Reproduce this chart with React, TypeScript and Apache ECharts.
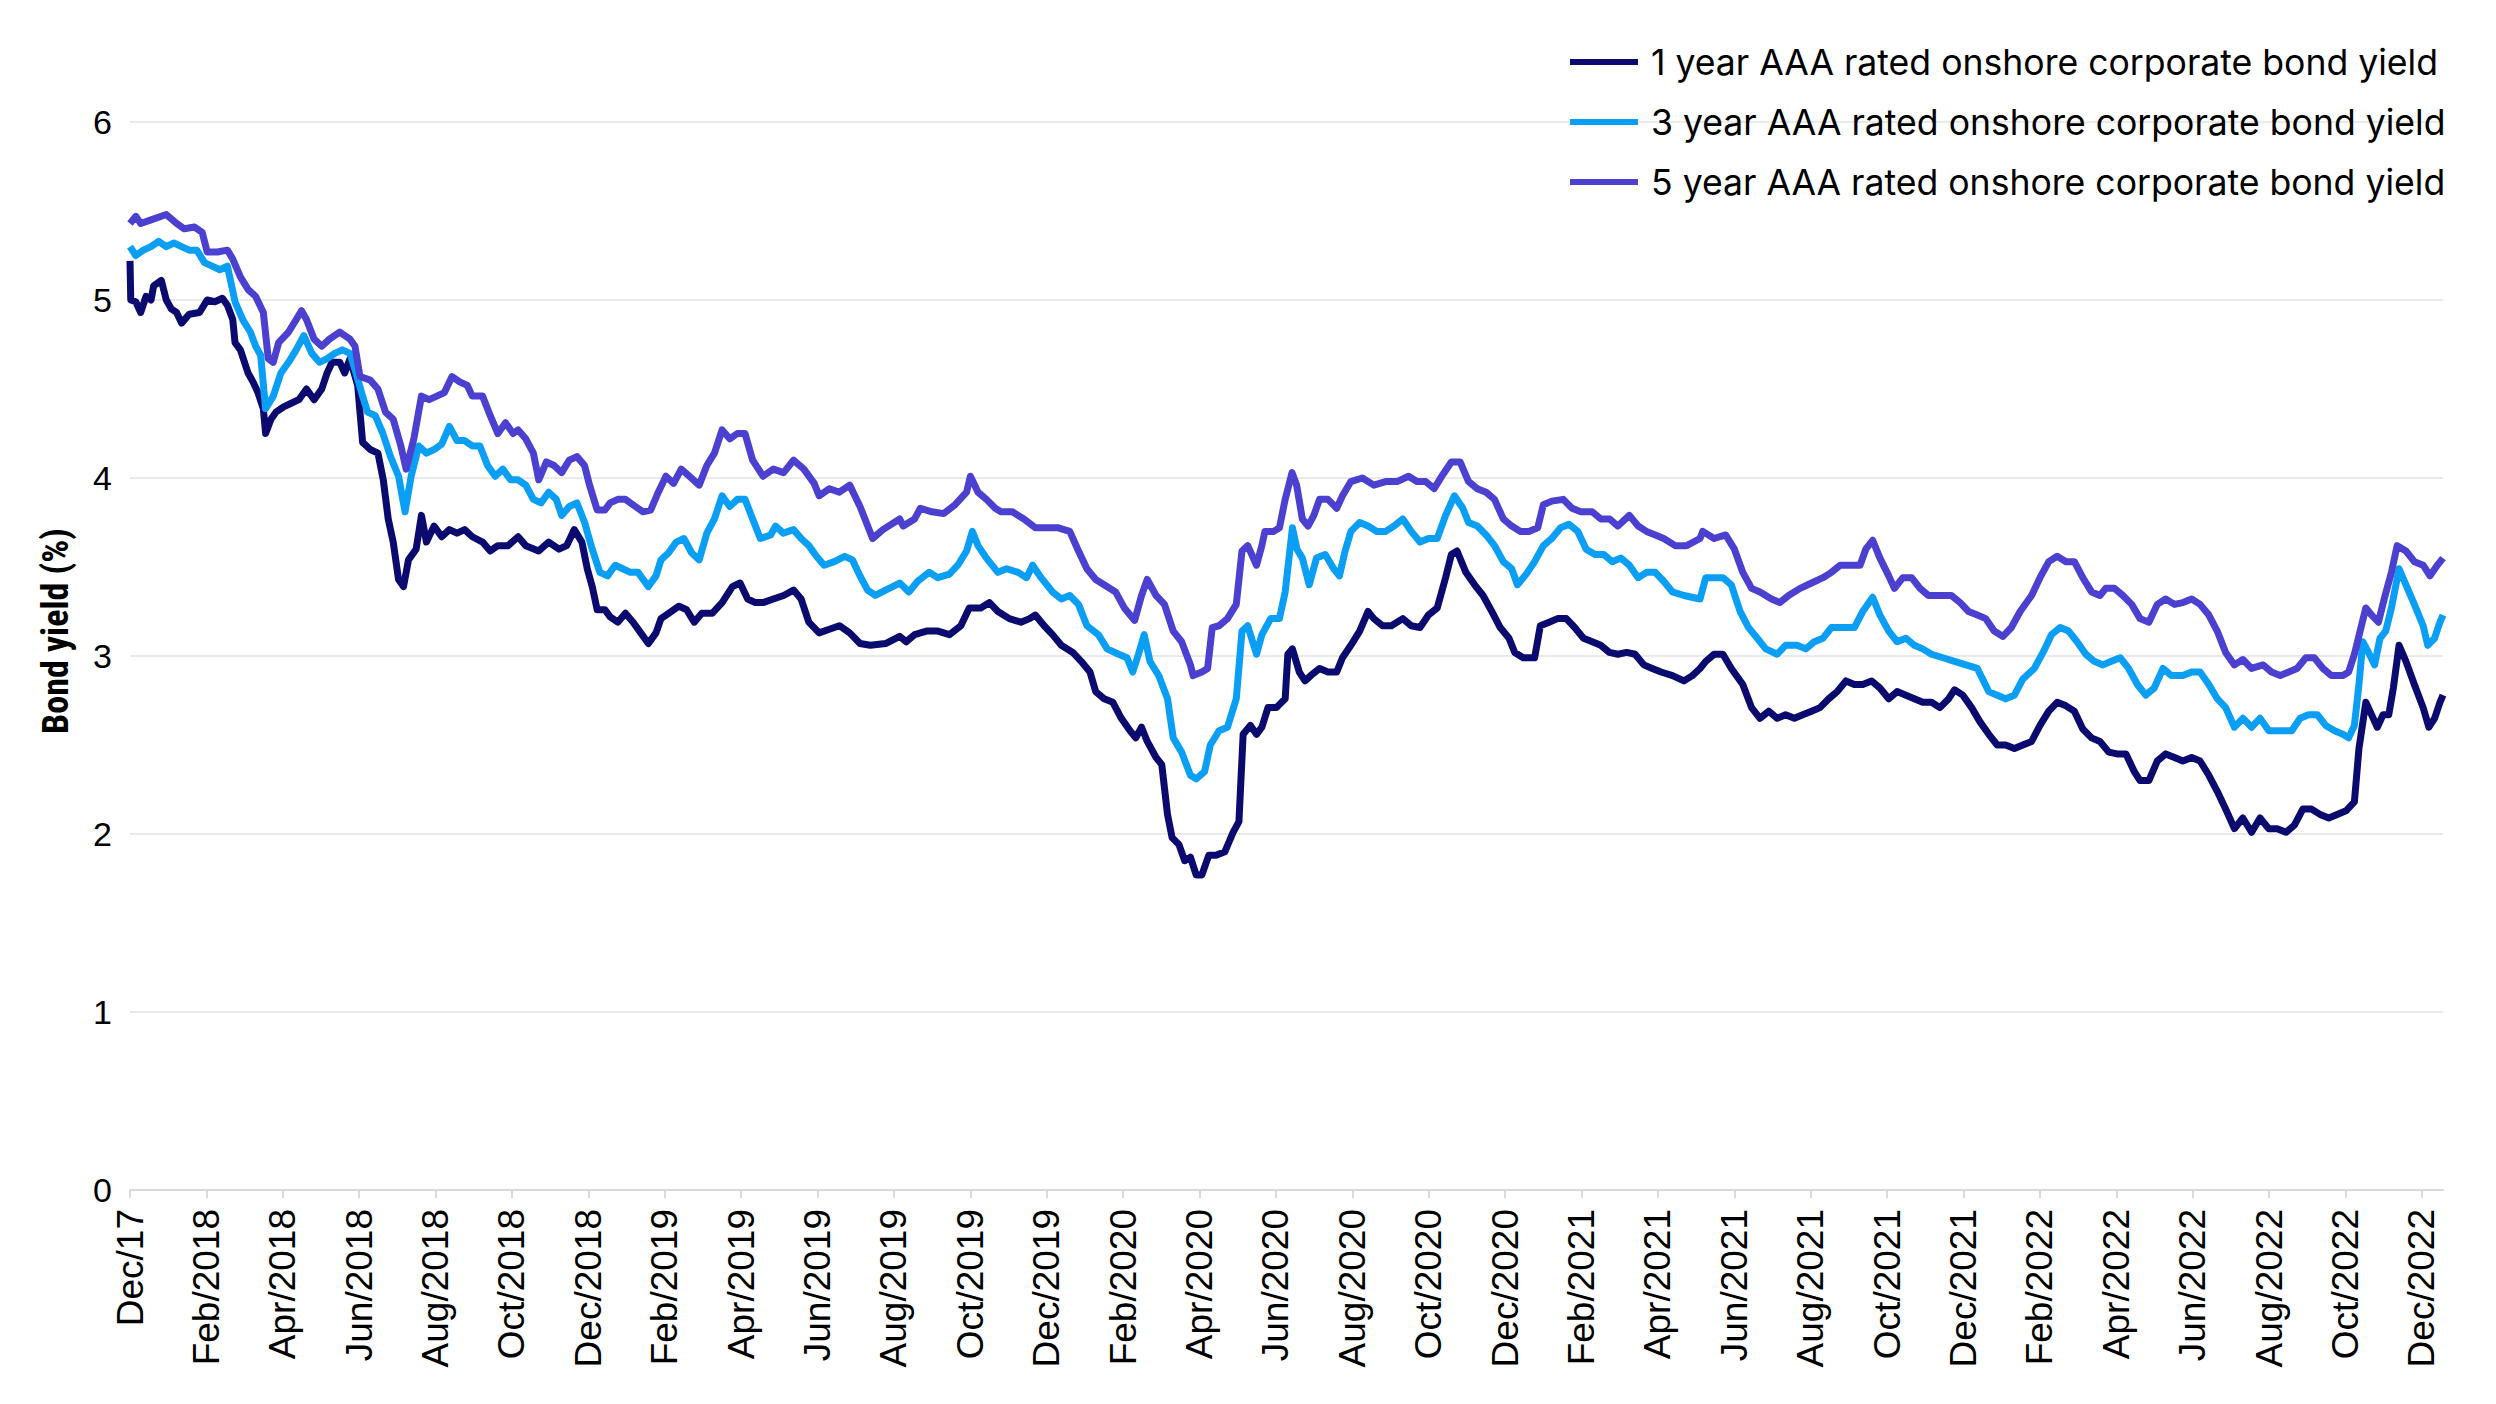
import React, { useEffect, useRef } from "react";
import * as echarts from "echarts";

// x = months since 1 Dec 2017 (0 = Dec 2017, 2 = Feb 2018, ... 60 = Dec 2022)
const seriesNames = [
  "1 year AAA rated onshore corporate bond yield",
  "3 year AAA rated onshore corporate bond yield",
  "5 year AAA rated onshore corporate bond yield",
];
const seriesColors = ["#0b0b6f", "#0a9ff5", "#4b40d0"];

const xTickLabels = [
  "Dec/17", "Feb/2018", "Apr/2018", "Jun/2018", "Aug/2018", "Oct/2018",
  "Dec/2018", "Feb/2019", "Apr/2019", "Jun/2019", "Aug/2019", "Oct/2019",
  "Dec/2019", "Feb/2020", "Apr/2020", "Jun/2020", "Aug/2020", "Oct/2020",
  "Dec/2020", "Feb/2021", "Apr/2021", "Jun/2021", "Aug/2021", "Oct/2021",
  "Dec/2021", "Feb/2022", "Apr/2022", "Jun/2022", "Aug/2022", "Oct/2022",
  "Dec/2022",
];
const xMax = 60.55;

const oneYear: [number, number][] = [
  [0, 5.22], [0.02, 5.0], [0.15, 4.99], [0.28, 4.93], [0.42, 5.02], [0.55, 5.0], [0.62, 5.08], [0.82, 5.11],
  [0.95, 5.0], [1.08, 4.95], [1.22, 4.93], [1.35, 4.87], [1.55, 4.92], [1.82, 4.93], [2.02, 5.0], [2.22, 4.99],
  [2.42, 5.01], [2.55, 4.97], [2.69, 4.89], [2.75, 4.76], [2.89, 4.72], [3.09, 4.59], [3.22, 4.54], [3.35, 4.48],
  [3.49, 4.39], [3.55, 4.25], [3.69, 4.33], [3.82, 4.37], [4.02, 4.4], [4.22, 4.42], [4.42, 4.44], [4.62, 4.5],
  [4.82, 4.44], [5.02, 4.5], [5.16, 4.59], [5.29, 4.65], [5.49, 4.65], [5.62, 4.59], [5.76, 4.67], [5.96, 4.52],
  [6.09, 4.2], [6.29, 4.16], [6.49, 4.14], [6.63, 3.99], [6.76, 3.77], [6.89, 3.64], [7.03, 3.43], [7.16, 3.39],
  [7.29, 3.54], [7.49, 3.6], [7.63, 3.79], [7.76, 3.64], [7.96, 3.73], [8.16, 3.67], [8.36, 3.71], [8.56, 3.69],
  [8.76, 3.71], [8.96, 3.67], [9.23, 3.64], [9.43, 3.59], [9.63, 3.62], [9.9, 3.62], [10.16, 3.67], [10.36, 3.62],
  [10.7, 3.59], [10.96, 3.64], [11.23, 3.6], [11.43, 3.62], [11.63, 3.71], [11.83, 3.64], [11.97, 3.49], [12.1, 3.39],
  [12.23, 3.26], [12.43, 3.26], [12.57, 3.22], [12.77, 3.19], [12.97, 3.24], [13.17, 3.19], [13.37, 3.13], [13.57, 3.07],
  [13.77, 3.13], [13.9, 3.21], [14.1, 3.24], [14.37, 3.28], [14.57, 3.26], [14.77, 3.19], [14.97, 3.24], [15.24, 3.24],
  [15.5, 3.3], [15.77, 3.39], [15.97, 3.41], [16.17, 3.32], [16.37, 3.3], [16.57, 3.3], [16.84, 3.32], [17.11, 3.34],
  [17.37, 3.37], [17.57, 3.32], [17.77, 3.19], [18.04, 3.13], [18.31, 3.15], [18.57, 3.17], [18.84, 3.13], [19.11, 3.07],
  [19.38, 3.06], [19.78, 3.07], [20.15, 3.11], [20.32, 3.08], [20.54, 3.12], [20.85, 3.14], [21.15, 3.14], [21.45, 3.12],
  [21.75, 3.17], [21.97, 3.27], [22.27, 3.27], [22.5, 3.3], [22.72, 3.25], [23.02, 3.21], [23.32, 3.19], [23.55, 3.21],
  [23.7, 3.23], [23.93, 3.17], [24.15, 3.12], [24.38, 3.06], [24.68, 3.02], [24.9, 2.97], [25.13, 2.91], [25.28, 2.8],
  [25.5, 2.76], [25.73, 2.74], [25.95, 2.65], [26.18, 2.58], [26.33, 2.54], [26.48, 2.6], [26.63, 2.52], [26.86, 2.43],
  [27.01, 2.39], [27.16, 2.11], [27.28, 1.98], [27.46, 1.94], [27.61, 1.85], [27.76, 1.87], [27.91, 1.77], [28.06, 1.77],
  [28.24, 1.88], [28.43, 1.88], [28.66, 1.9], [28.88, 2.01], [29.03, 2.07], [29.14, 2.56], [29.33, 2.61], [29.49, 2.56],
  [29.63, 2.6], [29.79, 2.71], [30.01, 2.71], [30.24, 2.76], [30.31, 3.01], [30.43, 3.04], [30.61, 2.91], [30.76, 2.86],
  [30.91, 2.89], [31.14, 2.93], [31.36, 2.91], [31.59, 2.91], [31.74, 2.99], [31.96, 3.06], [32.19, 3.14], [32.41, 3.25],
  [32.56, 3.21], [32.79, 3.17], [33.02, 3.17], [33.32, 3.21], [33.54, 3.17], [33.77, 3.16], [33.99, 3.23], [34.22, 3.27],
  [34.44, 3.44], [34.59, 3.57], [34.74, 3.59], [34.97, 3.47], [35.2, 3.4], [35.42, 3.34], [35.65, 3.25], [35.87, 3.16],
  [36.1, 3.1], [36.25, 3.02], [36.47, 2.99], [36.77, 2.99], [36.92, 3.17], [37.15, 3.19], [37.37, 3.21], [37.6, 3.21],
  [37.82, 3.16], [38.05, 3.1], [38.28, 3.08], [38.5, 3.06], [38.73, 3.02], [38.95, 3.01], [39.18, 3.02], [39.4, 3.01],
  [39.63, 2.95], [39.85, 2.93], [40.08, 2.91], [40.38, 2.89], [40.68, 2.86], [40.9, 2.89], [41.1, 2.93], [41.25, 2.97],
  [41.47, 3.01], [41.7, 3.01], [41.92, 2.93], [42.22, 2.84], [42.45, 2.71], [42.67, 2.65], [42.9, 2.69], [43.12, 2.65],
  [43.34, 2.67], [43.57, 2.65], [43.79, 2.67], [44.02, 2.69], [44.24, 2.71], [44.47, 2.76], [44.69, 2.8], [44.92, 2.86],
  [45.14, 2.84], [45.36, 2.84], [45.59, 2.86], [45.81, 2.82], [46.04, 2.76], [46.26, 2.8], [46.49, 2.78], [46.71, 2.76],
  [46.93, 2.74], [47.16, 2.74], [47.38, 2.71], [47.61, 2.76], [47.76, 2.81], [47.98, 2.78], [48.21, 2.71], [48.43, 2.63],
  [48.66, 2.56], [48.88, 2.5], [49.1, 2.5], [49.33, 2.48], [49.55, 2.5], [49.78, 2.52], [50.0, 2.61], [50.23, 2.69],
  [50.45, 2.74], [50.68, 2.72], [50.9, 2.69], [51.12, 2.59], [51.35, 2.54], [51.57, 2.52], [51.8, 2.46], [52.02, 2.45],
  [52.25, 2.45], [52.47, 2.35], [52.62, 2.3], [52.85, 2.3], [53.07, 2.41], [53.29, 2.45], [53.52, 2.43], [53.74, 2.41],
  [53.97, 2.43], [54.19, 2.41], [54.42, 2.33], [54.64, 2.24], [54.86, 2.14], [55.09, 2.03], [55.31, 2.09], [55.54, 2.01],
  [55.76, 2.09], [55.99, 2.03], [56.21, 2.03], [56.44, 2.01], [56.66, 2.05], [56.88, 2.14], [57.11, 2.14], [57.33, 2.11],
  [57.56, 2.09], [57.78, 2.11], [58.01, 2.13], [58.23, 2.18], [58.35, 2.48], [58.53, 2.74], [58.68, 2.67], [58.83, 2.6],
  [58.98, 2.67], [59.13, 2.67], [59.25, 2.82], [59.4, 3.06], [59.58, 2.97], [59.8, 2.84], [60.03, 2.71], [60.18, 2.6],
  [60.33, 2.65], [60.47, 2.74], [60.55, 2.78],
];

const threeYear: [number, number][] = [
  [0, 5.3], [0.15, 5.25], [0.35, 5.28], [0.55, 5.3], [0.75, 5.33], [0.95, 5.3], [1.15, 5.32], [1.35, 5.3],
  [1.55, 5.28], [1.75, 5.28], [1.95, 5.21], [2.15, 5.19], [2.35, 5.17], [2.55, 5.19], [2.62, 5.12], [2.75, 4.99],
  [2.95, 4.89], [3.15, 4.82], [3.29, 4.74], [3.42, 4.69], [3.55, 4.39], [3.75, 4.46], [3.95, 4.59], [4.15, 4.65],
  [4.35, 4.72], [4.55, 4.8], [4.76, 4.7], [4.96, 4.65], [5.16, 4.67], [5.36, 4.7], [5.56, 4.72], [5.76, 4.7],
  [5.89, 4.61], [6.09, 4.46], [6.22, 4.37], [6.42, 4.35], [6.62, 4.25], [6.82, 4.12], [7.03, 4.01], [7.2, 3.81],
  [7.36, 4.01], [7.56, 4.18], [7.76, 4.14], [7.96, 4.16], [8.16, 4.19], [8.36, 4.29], [8.56, 4.21], [8.76, 4.21],
  [8.96, 4.18], [9.16, 4.18], [9.36, 4.07], [9.56, 4.01], [9.76, 4.05], [9.96, 3.99], [10.16, 3.99], [10.36, 3.96],
  [10.56, 3.88], [10.76, 3.86], [10.96, 3.92], [11.16, 3.88], [11.3, 3.79], [11.5, 3.84], [11.7, 3.86], [11.9, 3.75],
  [12.1, 3.6], [12.3, 3.47], [12.5, 3.45], [12.7, 3.51], [12.9, 3.49], [13.1, 3.47], [13.3, 3.47], [13.57, 3.39],
  [13.77, 3.45], [13.9, 3.54], [14.1, 3.58], [14.3, 3.64], [14.5, 3.66], [14.7, 3.58], [14.9, 3.54], [15.1, 3.69],
  [15.3, 3.77], [15.5, 3.9], [15.7, 3.84], [15.9, 3.88], [16.1, 3.88], [16.3, 3.77], [16.5, 3.66], [16.77, 3.68],
  [16.9, 3.73], [17.1, 3.69], [17.37, 3.71], [17.57, 3.66], [17.77, 3.62], [17.97, 3.56], [18.17, 3.51], [18.44, 3.53],
  [18.71, 3.56], [18.91, 3.54], [19.11, 3.45], [19.31, 3.37], [19.51, 3.34], [19.78, 3.37], [20.15, 3.41], [20.39, 3.36],
  [20.62, 3.42], [20.92, 3.47], [21.15, 3.44], [21.45, 3.46], [21.67, 3.51], [21.9, 3.59], [22.05, 3.7], [22.2, 3.62],
  [22.42, 3.55], [22.72, 3.47], [22.95, 3.49], [23.25, 3.47], [23.47, 3.44], [23.63, 3.51], [23.85, 3.44], [24.15, 3.36],
  [24.38, 3.32], [24.6, 3.34], [24.83, 3.29], [25.05, 3.17], [25.35, 3.12], [25.58, 3.04], [25.88, 3.01], [26.1, 2.99],
  [26.25, 2.91], [26.4, 3.01], [26.55, 3.12], [26.7, 2.97], [26.93, 2.89], [27.16, 2.76], [27.31, 2.54], [27.53, 2.46],
  [27.76, 2.33], [27.91, 2.31], [28.13, 2.35], [28.28, 2.5], [28.51, 2.58], [28.73, 2.6], [28.96, 2.76], [29.11, 3.14],
  [29.26, 3.17], [29.49, 3.01], [29.63, 3.12], [29.86, 3.21], [30.09, 3.21], [30.24, 3.36], [30.43, 3.72], [30.55, 3.6],
  [30.69, 3.55], [30.87, 3.4], [31.06, 3.55], [31.29, 3.57], [31.51, 3.49], [31.66, 3.45], [31.81, 3.59], [31.96, 3.7],
  [32.19, 3.75], [32.41, 3.73], [32.64, 3.7], [32.87, 3.7], [33.09, 3.73], [33.32, 3.77], [33.54, 3.7], [33.77, 3.64],
  [33.99, 3.66], [34.22, 3.66], [34.44, 3.79], [34.67, 3.9], [34.89, 3.83], [35.04, 3.75], [35.27, 3.73], [35.5, 3.68],
  [35.72, 3.62], [35.95, 3.53], [36.17, 3.49], [36.32, 3.4], [36.55, 3.46], [36.77, 3.53], [37.0, 3.62], [37.22, 3.66],
  [37.45, 3.72], [37.67, 3.74], [37.9, 3.7], [38.12, 3.6], [38.35, 3.57], [38.58, 3.57], [38.8, 3.53], [39.03, 3.55],
  [39.25, 3.51], [39.48, 3.44], [39.7, 3.47], [39.93, 3.47], [40.15, 3.42], [40.38, 3.36], [40.68, 3.34], [41.1, 3.32],
  [41.25, 3.44], [41.47, 3.44], [41.7, 3.44], [41.92, 3.4], [42.15, 3.25], [42.37, 3.16], [42.6, 3.1], [42.82, 3.04],
  [43.12, 3.01], [43.34, 3.06], [43.64, 3.06], [43.87, 3.04], [44.09, 3.08], [44.32, 3.1], [44.54, 3.16], [44.84, 3.16],
  [45.14, 3.16], [45.36, 3.25], [45.62, 3.33], [45.81, 3.23], [46.04, 3.14], [46.26, 3.08], [46.49, 3.1], [46.71, 3.06],
  [46.93, 3.04], [47.16, 3.01], [47.46, 2.99], [47.76, 2.97], [48.06, 2.95], [48.36, 2.93], [48.66, 2.8], [48.88, 2.78],
  [49.1, 2.76], [49.33, 2.78], [49.55, 2.87], [49.85, 2.93], [50.08, 3.02], [50.3, 3.12], [50.53, 3.16], [50.75, 3.14],
  [50.97, 3.08], [51.2, 3.01], [51.42, 2.97], [51.65, 2.95], [51.87, 2.97], [52.1, 2.99], [52.32, 2.93], [52.55, 2.84],
  [52.77, 2.78], [52.99, 2.82], [53.22, 2.93], [53.44, 2.89], [53.74, 2.89], [53.97, 2.91], [54.19, 2.91], [54.42, 2.84],
  [54.64, 2.76], [54.86, 2.71], [55.09, 2.6], [55.31, 2.65], [55.54, 2.6], [55.76, 2.65], [55.99, 2.58], [56.29, 2.58],
  [56.59, 2.58], [56.81, 2.65], [57.03, 2.67], [57.26, 2.67], [57.48, 2.61], [57.71, 2.58], [57.93, 2.56], [58.08, 2.54],
  [58.23, 2.61], [58.35, 2.84], [58.45, 3.08], [58.6, 3.02], [58.76, 2.95], [58.9, 3.1], [59.05, 3.14], [59.2, 3.27],
  [59.4, 3.49], [59.58, 3.4], [59.8, 3.29], [60.03, 3.17], [60.15, 3.06], [60.33, 3.1], [60.47, 3.19], [60.55, 3.23],
];

const fiveYear: [number, number][] = [
  [0, 5.43], [0.15, 5.47], [0.28, 5.43], [0.55, 5.45], [0.95, 5.48], [1.22, 5.43], [1.42, 5.4], [1.69, 5.41],
  [1.89, 5.38], [2.02, 5.27], [2.29, 5.27], [2.55, 5.28], [2.69, 5.23], [2.89, 5.13], [3.09, 5.06], [3.29, 5.02],
  [3.49, 4.93], [3.62, 4.67], [3.75, 4.65], [3.89, 4.76], [4.15, 4.82], [4.35, 4.89], [4.49, 4.94], [4.62, 4.89],
  [4.82, 4.78], [5.02, 4.74], [5.22, 4.78], [5.49, 4.82], [5.76, 4.78], [5.89, 4.74], [6.02, 4.57], [6.29, 4.55],
  [6.49, 4.5], [6.69, 4.37], [6.89, 4.33], [7.09, 4.18], [7.23, 4.05], [7.43, 4.22], [7.63, 4.46], [7.83, 4.44],
  [8.03, 4.46], [8.23, 4.48], [8.43, 4.57], [8.63, 4.54], [8.83, 4.52], [8.96, 4.46], [9.23, 4.46], [9.43, 4.35],
  [9.63, 4.25], [9.83, 4.31], [10.03, 4.25], [10.16, 4.27], [10.36, 4.22], [10.56, 4.14], [10.7, 3.99], [10.9, 4.09],
  [11.1, 4.07], [11.3, 4.03], [11.5, 4.1], [11.7, 4.12], [11.9, 4.07], [12.03, 3.96], [12.23, 3.82], [12.43, 3.82],
  [12.57, 3.86], [12.77, 3.88], [12.97, 3.88], [13.23, 3.84], [13.43, 3.81], [13.63, 3.82], [13.83, 3.92], [14.03, 4.01],
  [14.23, 3.97], [14.43, 4.05], [14.64, 4.01], [14.9, 3.96], [15.1, 4.07], [15.3, 4.14], [15.5, 4.27], [15.7, 4.22],
  [15.9, 4.25], [16.1, 4.25], [16.3, 4.1], [16.57, 4.01], [16.84, 4.05], [17.11, 4.03], [17.37, 4.1], [17.64, 4.05],
  [17.91, 3.97], [18.04, 3.9], [18.31, 3.94], [18.57, 3.92], [18.84, 3.96], [19.11, 3.84], [19.24, 3.77], [19.44, 3.66],
  [19.71, 3.71], [20.15, 3.77], [20.24, 3.73], [20.54, 3.77], [20.69, 3.83], [20.99, 3.81], [21.3, 3.8], [21.6, 3.85],
  [21.9, 3.92], [22.0, 4.01], [22.2, 3.92], [22.42, 3.88], [22.65, 3.83], [22.8, 3.81], [23.1, 3.81], [23.4, 3.77],
  [23.7, 3.72], [24.0, 3.72], [24.3, 3.72], [24.6, 3.7], [24.83, 3.59], [25.05, 3.49], [25.28, 3.43], [25.5, 3.4],
  [25.8, 3.36], [26.03, 3.27], [26.3, 3.2], [26.48, 3.34], [26.63, 3.43], [26.86, 3.34], [27.08, 3.29], [27.31, 3.14],
  [27.53, 3.08], [27.76, 2.95], [27.83, 2.89], [28.06, 2.91], [28.21, 2.93], [28.33, 3.16], [28.51, 3.17], [28.73, 3.21],
  [28.96, 3.29], [29.11, 3.59], [29.26, 3.62], [29.49, 3.51], [29.63, 3.62], [29.71, 3.7], [29.94, 3.7], [30.09, 3.72],
  [30.24, 3.88], [30.42, 4.03], [30.54, 3.96], [30.69, 3.77], [30.84, 3.73], [30.99, 3.79], [31.14, 3.88], [31.36, 3.88],
  [31.59, 3.83], [31.74, 3.9], [31.96, 3.98], [32.26, 4.0], [32.56, 3.96], [32.87, 3.98], [33.17, 3.98], [33.47, 4.01],
  [33.69, 3.98], [33.92, 3.98], [34.14, 3.94], [34.37, 4.02], [34.59, 4.09], [34.82, 4.09], [35.04, 3.98], [35.27, 3.94],
  [35.5, 3.92], [35.72, 3.88], [35.95, 3.77], [36.17, 3.73], [36.4, 3.7], [36.62, 3.7], [36.85, 3.72], [37.0, 3.85],
  [37.22, 3.87], [37.52, 3.88], [37.75, 3.83], [37.98, 3.81], [38.28, 3.81], [38.5, 3.77], [38.73, 3.77], [38.95, 3.73],
  [39.25, 3.79], [39.48, 3.73], [39.7, 3.7], [39.93, 3.68], [40.15, 3.66], [40.45, 3.62], [40.75, 3.62], [41.1, 3.66],
  [41.17, 3.7], [41.47, 3.66], [41.77, 3.68], [42.0, 3.6], [42.22, 3.47], [42.45, 3.38], [42.67, 3.36], [42.97, 3.32],
  [43.19, 3.3], [43.42, 3.34], [43.72, 3.38], [44.02, 3.41], [44.32, 3.44], [44.54, 3.47], [44.77, 3.51], [45.07, 3.51],
  [45.29, 3.51], [45.44, 3.6], [45.62, 3.65], [45.81, 3.55], [46.04, 3.45], [46.19, 3.38], [46.41, 3.44], [46.64, 3.44],
  [46.86, 3.38], [47.08, 3.34], [47.38, 3.34], [47.68, 3.34], [47.91, 3.3], [48.13, 3.25], [48.36, 3.23], [48.58, 3.21],
  [48.8, 3.14], [49.03, 3.11], [49.25, 3.16], [49.48, 3.25], [49.78, 3.34], [50.0, 3.44], [50.23, 3.53], [50.45, 3.56],
  [50.68, 3.53], [50.9, 3.53], [51.12, 3.44], [51.35, 3.36], [51.57, 3.34], [51.72, 3.38], [51.95, 3.38], [52.17, 3.34],
  [52.4, 3.29], [52.62, 3.21], [52.85, 3.19], [53.07, 3.29], [53.29, 3.32], [53.52, 3.29], [53.74, 3.3], [53.97, 3.32],
  [54.19, 3.29], [54.42, 3.23], [54.64, 3.14], [54.86, 3.02], [55.09, 2.95], [55.31, 2.98], [55.54, 2.93], [55.84, 2.95],
  [56.06, 2.91], [56.29, 2.89], [56.51, 2.91], [56.73, 2.93], [56.96, 2.99], [57.18, 2.99], [57.41, 2.93], [57.63, 2.89],
  [57.93, 2.89], [58.08, 2.91], [58.23, 3.01], [58.38, 3.14], [58.53, 3.27], [58.68, 3.23], [58.86, 3.19], [59.01, 3.32],
  [59.2, 3.47], [59.35, 3.62], [59.58, 3.59], [59.8, 3.53], [60.03, 3.51], [60.21, 3.45], [60.4, 3.51], [60.55, 3.55],
];

const seriesData = [oneYear, threeYear, fiveYear];
const tickValues = xTickLabels.map((_, i) => i * 2);

export default function App() {
  const ref = useRef<HTMLDivElement>(null);
  useEffect(() => {
    if (!ref.current) return;
    const chart = echarts.init(ref.current, null, { renderer: "svg" });
    chart.setOption({
      animation: false,
      backgroundColor: "#ffffff",
      grid: { left: 130, right: 53, top: 122, bottom: 214, containLabel: false },
      legend: {
        orient: "vertical",
        left: 1565,
        top: 39,
        itemWidth: 68,
        itemHeight: 6,
        itemGap: 24,
        icon: "rect",
        textStyle: { fontFamily: "Inter", fontSize: 35.6, color: "#000", padding: [0, 0, 0, 8] },
        data: seriesNames,
      },
      xAxis: {
        type: "value",
        min: 0,
        max: xMax,
        interval: 2,
        axisLine: { show: true, lineStyle: { color: "#d9d9d9", width: 2 } },
        axisTick: {
          show: true,
          customValues: tickValues,
          length: 8,
          lineStyle: { color: "#d9d9d9", width: 2 },
        },
        axisLabel: {
          customValues: tickValues,
          rotate: 90,
          margin: 19,
          fontFamily: "Liberation Sans",
          fontSize: 37,
          color: "#000",
          formatter: (v: number) => {
            const i = Math.round(v / 2);
            return Math.abs(v - i * 2) < 1e-6 && xTickLabels[i] ? xTickLabels[i] : "";
          },
        },
        splitLine: { show: false },
      },
      yAxis: {
        type: "value",
        min: 0,
        max: 6,
        interval: 1,
        axisLine: { show: false },
        axisTick: { show: false },
        splitLine: { lineStyle: { color: "#e3e3e3", width: 1.5 } },
        axisLabel: {
          margin: 18,
          fontFamily: "Liberation Sans",
          fontSize: 34,
          color: "#000",
        },
      },
      graphic: [
        {
          type: "text",
          x: 56,
          y: 631,
          rotation: Math.PI / 2,
          style: {
            text: "Bond yield (%)",
            fontFamily: "'Liberation Sans Narrow', 'Roboto Condensed', Roboto",
            fontWeight: "bold",
            fontSize: 36,
            fill: "#000",
            align: "center",
            verticalAlign: "middle",
          },
        },
      ],
      series: seriesNames.map((name, i) => ({
        name,
        type: "line",
        data: seriesData[i],
        showSymbol: false,
        symbol: "none",
        lineStyle: { width: 7, color: seriesColors[i], join: "round" },
        itemStyle: { color: seriesColors[i] },
        z: 2 + i,
      })),
    });
    return () => chart.dispose();
  }, []);
  return (
    <div
      ref={ref}
      style={{ position: "fixed", left: 0, top: 0, width: 2496, height: 1404, background: "#fff" }}
    />
  );
}
